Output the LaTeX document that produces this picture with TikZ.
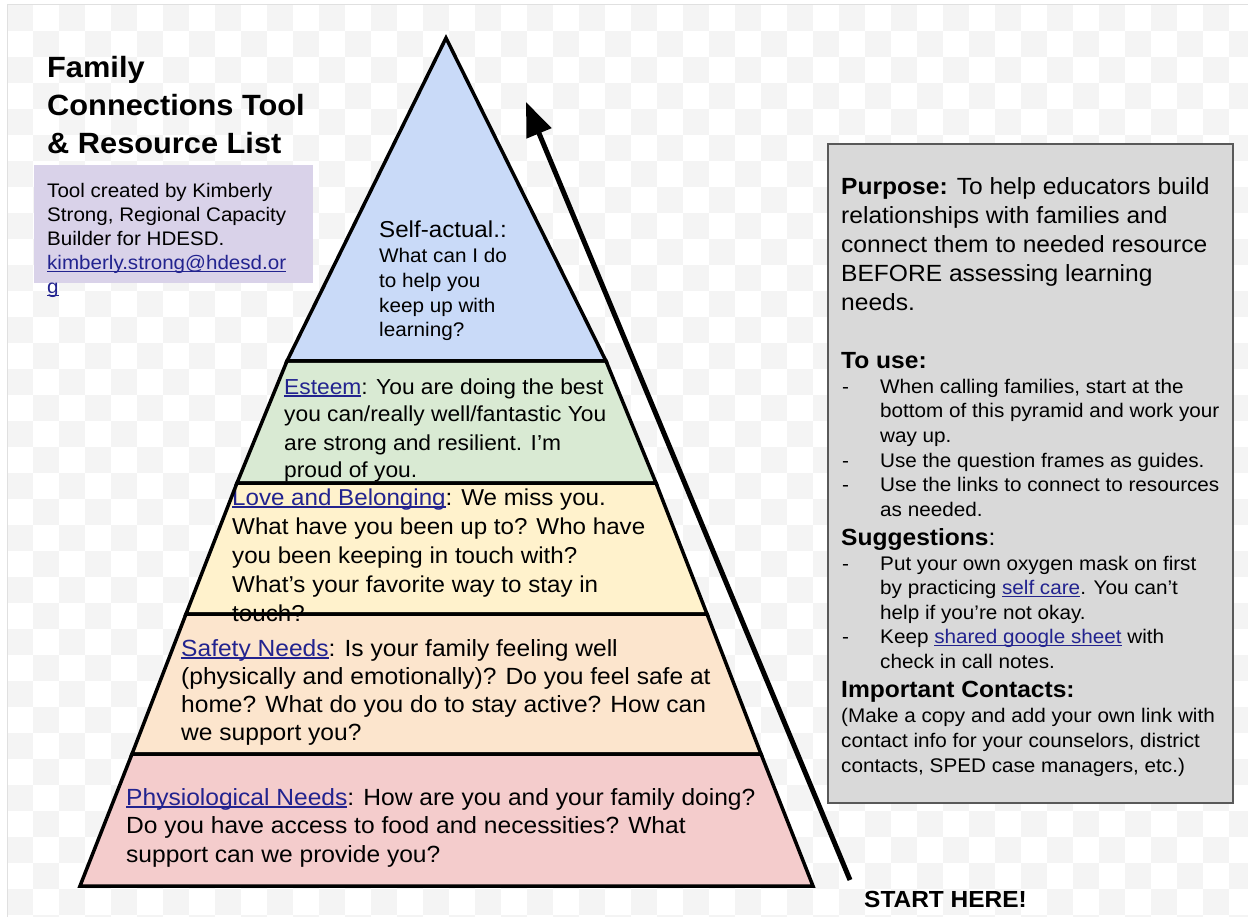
\documentclass[tikz,border=0pt]{standalone}
\usepackage{fontspec}
\setmainfont{Liberation Sans}[FakeStretch=1.05]
\usetikzlibrary{arrows.meta}

\definecolor{selfblue}{HTML}{C9DAF8}
\definecolor{esteemgreen}{HTML}{D9EAD3}
\definecolor{loveyellow}{HTML}{FFF2CC}
\definecolor{safetyorange}{HTML}{FCE5CD}
\definecolor{physred}{HTML}{F4CCCC}
\definecolor{notegray}{HTML}{D9D9D9}
\definecolor{credpurple}{HTML}{D9D2E9}
\definecolor{linkblue}{HTML}{22238F}
\definecolor{checkgray}{HTML}{F4F4F4}

\newsavebox{\lnkbox}
\newcommand{\lnk}[1]{{\color{linkblue}\sbox{\lnkbox}{#1}\rlap{\usebox{\lnkbox}}\rule[-2.5pt]{\wd\lnkbox}{1.3pt}}}
\newcommand{\setfs}[2]{\fontsize{#1}{#2}\selectfont}
\newcommand{\rows}[1]{\begin{tabular}[t]{@{}l@{}}#1\end{tabular}}

\begin{document}
\begin{tikzpicture}[x=1pt,y=-1pt,
    tierline/.style={line width=3.5pt},
    txt/.style={anchor=base west, inner sep=0pt, text=black}]
    \useasboundingbox (0,0) rectangle (1248,917);

    % faint checker background
    \begin{scope}
        \clip (7,5) rectangle (1248,917);
        \foreach \i in {0,52,...,1248}
            \foreach \j in {0,52,...,917}{
                \fill[checkgray] (\i+7,\j+5) rectangle ++(26,26);
                \fill[checkgray] (\i+33,\j+31) rectangle ++(26,26);
            }
    \end{scope}
    \draw[black!12, line width=1pt] (7,917) -- (7,5) -- (1248,5);

    % pyramid corners
    \coordinate (apex) at (446,38);
    \coordinate (sl) at (287,361);  \coordinate (sr) at (606,361);
    \coordinate (el) at (237,483);  \coordinate (er) at (656,483);
    \coordinate (ll) at (186,614);  \coordinate (lr) at (707,614);
    \coordinate (fl) at (132,754);  \coordinate (fr) at (761,754);
    \coordinate (pl) at (80,886);   \coordinate (pr) at (813,886);

    \fill[selfblue] (apex) -- (sr) -- (sl) -- cycle;
    \fill[esteemgreen] (sl) -- (sr) -- (er) -- (el) -- cycle;
    \fill[loveyellow] (el) -- (er) -- (lr) -- (ll) -- cycle;
    \fill[safetyorange] (ll) -- (lr) -- (fr) -- (fl) -- cycle;
    \fill[physred] (fl) -- (fr) -- (pr) -- (pl) -- cycle;

    % tier texts
    \node[txt, font=\setfs{19.7}{24.75}] (self) at (379,238)
        {\rows{{\setfs{23}{24.75}Self-actual.:}\\What can I do\\to help you\\keep up with\\learning?}};
    \node[txt, font=\setfs{21.7}{28}] (esteem) at (284,394)
        {\rows{\lnk{Esteem}: You are doing the best\\you can/really well/fantastic You\\are strong and resilient. I’m\\proud of you.}};
    \node[txt, font=\setfs{23}{29}] (love) at (232,505)
        {\rows{\lnk{Love and Belonging}: We miss you.\\What have you been up to? Who have\\you been keeping in touch with?\\What’s your favorite way to stay in\\touch?}};
    \node[txt, font=\setfs{23.4}{28.3}] (safety) at (181,656)
        {\rows{\lnk{Safety Needs}: Is your family feeling well\\(physically and emotionally)? Do you feel safe at\\home? What do you do to stay active? How can\\we support you?}};
    \node[txt, font=\setfs{23.4}{28.5}] (physio) at (126,805)
        {\rows{\lnk{Physiological Needs}: How are you and your family doing?\\Do you have access to food and necessities? What\\support can we provide you?}};

    \draw[tierline] (apex) -- (sr) -- (sl) -- cycle;
    \draw[tierline] (sl) -- (sr) -- (er) -- (el) -- cycle;
    \draw[tierline] (el) -- (er) -- (lr) -- (ll) -- cycle;
    \draw[tierline] (ll) -- (lr) -- (fr) -- (fl) -- cycle;
    \draw[tierline] (fl) -- (fr) -- (pr) -- (pl) -- cycle;

    % climbing arrow
    \coordinate (arrowtail) at (850,880);
    \coordinate (arrowtip) at (526,102);
    \draw[line width=5pt, -{Triangle[length=34pt,width=26pt]}] (arrowtail) -- (arrowtip);
    \node[txt, font=\setfs{23.3}{26}\bfseries] (start) at (864,907) {START HERE!};

    % title and credit
    \node[txt, font=\setfs{29.3}{38}\bfseries] (title) at (47,78)
        {\rows{Family\\Connections Tool\\\& Resource List}};
    \fill[credpurple] (34,165) rectangle (313,283);
    \node[txt, font=\setfs{19.6}{24}] (credit) at (47,198)
        {\rows{Tool created by Kimberly\\Strong, Regional Capacity\\Builder for HDESD.\\\lnk{kimberly.strong@hdesd.or}\\\lnk{g}}};

    % notes box
    \draw[fill=notegray, draw=black!65, line width=1.5pt] (828,144) rectangle (1233,803);
    \node[txt, font=\setfs{23.4}{29}] (purpose) at (841,195)
        {\rows{\textbf{Purpose:} To help educators build\\relationships with families and\\connect them to needed resource\\BEFORE assessing learning\\needs.}};
    \node[txt, font=\setfs{23.4}{29}\bfseries] (usehead) at (841,368) {To use:};
    \node[txt, font=\setfs{19.7}{24.7}] (uselist) at (842,393)
        {\begin{tabular}[t]{@{}p{38pt}@{}l@{}}
        - & When calling families, start at the\\
          & bottom of this pyramid and work your\\
          & way up.\\
        - & Use the question frames as guides.\\
        - & Use the links to connect to resources\\
          & as needed.
        \end{tabular}};
    \node[txt, font=\setfs{23.4}{29}] (sugghead) at (841,545) {\textbf{Suggestions}:};
    \node[txt, font=\setfs{19.7}{24.6}] (sugglist) at (842,570)
        {\begin{tabular}[t]{@{}p{38pt}@{}l@{}}
        - & Put your own oxygen mask on first\\
          & by practicing \lnk{self care}. You can’t\\
          & help if you’re not okay.\\
        - & Keep \lnk{shared google sheet} with\\
          & check in call notes.
        \end{tabular}};
    \node[txt, font=\setfs{23.4}{29}\bfseries] (conthead) at (841,697) {Important Contacts:};
    \node[txt, font=\setfs{19.7}{25}] (contlist) at (841,722)
        {\rows{(Make a copy and add your own link with\\contact info for your counselors, district\\contacts, SPED case managers, etc.)}};
\end{tikzpicture}
\end{document}
